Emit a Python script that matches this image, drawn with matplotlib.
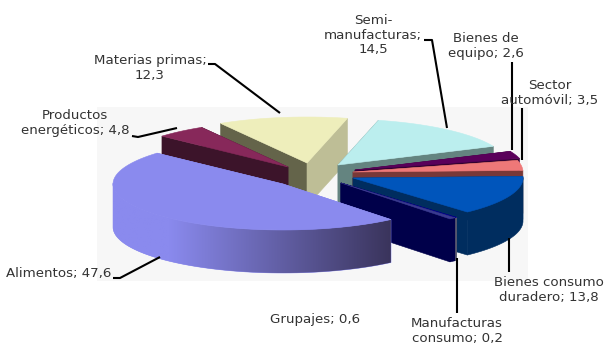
import numpy as np
import matplotlib
matplotlib.use("Agg")
import matplotlib.pyplot as plt
from matplotlib.patches import Polygon, Rectangle

# data, clockwise from the start angle
categories = ["Bienes consumo\nduradero", "Manufacturas\nconsumo", "Grupajes", "Alimentos",
              "Productos\nenergéticos", "Materias primas;\n", "Semi-\nmanufacturas;\n",
              "Bienes de\nequipo", "Sector\nautomóvil"]
values = [13.8, 0.2, 0.6, 47.6, 4.8, 12.3, 14.5, 2.6, 3.5]

# look of each slice: tip of the exploded slice (pixels), size and colours
tips = [(353, 178), (341, 183), (341, 183), (283, 184), (288, 167),
        (307, 163), (338, 165), (355, 170), (353, 172)]
scale = [1, 1.01, 1.01, 1, 1, 1, 1, 1, 1]
top_colors = ["#0055bb", "#0000a0", "#3a3a90", "#8a8aee", "#87285a",
              "#eeeebb", "#bbeeee", "#5a005a", "#ee7878"]
start_wall = ["#002d5f", "#00004a", "#00004a", "#8a8aee", "#3c142a",
              "#64644a", "#648480", "#320032", "#783838"]
end_wall = ["#002d5f", "#00004a", "#00004a", "#8a8aee", "#3c142a",
            "#bebe96", "#648480", "#320032", "#783838"]
wall_colors = ["#002d5f", "#6e6e78", "#00004a", "#8a8aee", "#3c142a",
               "#bebe96", "#648480", "#320032", "#783838"]
draw_order = [5, 6, 7, 8, 0, 1, 2, 4, 3]

START_ANGLE = 2.0
RX = 170.0
RY = 46.0
DEPTH = 43.0

# labels: anchor in pixels, leader line in pixels
label_pos = [(549, 290), (457, 331), (315, 319), (59, 273), (75, 123),
             (150, 68), (373, 35), (486, 46), (550, 93)]
leader_x = [[509, 509], [457, 457], None, [113, 120, 160], [132, 138, 177],
            [208, 215, 280], [424, 432, 447], [512, 512], [522, 522]]
leader_y = [[238, 272], [258, 313], None, [278, 278, 257], [136, 137, 128],
            [64, 64, 113], [40, 40, 128], [62, 150], [108, 160]]


def pt(tip, ang, k=1):
    a = np.radians(ang)
    return (tip[0] + k * RX * np.cos(a), tip[1] - k * RY * np.sin(a))


def face(points, color, z):
    # same colour edge so that neighbouring faces leave no seam
    poly = Polygon(points, fc=color, ec=color, lw=0.4, zorder=z)
    ax.add_patch(poly)
    return poly


fig = plt.figure(figsize=(6.05, 3.45), dpi=100)
ax = fig.add_axes([0, 0, 1, 1])
ax.axis("off")
ax.add_patch(Rectangle((97, 107), 431, 174, fc="#f7f7f7", ec="none", zorder=0))

# slice angles from the values
total = sum(values)
spans = [v / total * 360 for v in values]
ends = START_ANGLE - np.cumsum(spans)
starts = ends + np.array(spans)

z = 1
for i in draw_order:
    tip = tips[i]
    a0, a1 = starts[i], ends[i]
    arc = np.linspace(a0, a1, 80)
    ax_pts = [pt(tip, a, scale[i]) for a in arc]

    # flat cut faces
    p0 = ax_pts[0]
    p1 = ax_pts[-1]
    face([tip, p0, (p0[0], p0[1] + DEPTH), (tip[0], tip[1] + DEPTH)], start_wall[i], z)
    face([tip, p1, (p1[0], p1[1] + DEPTH), (tip[0], tip[1] + DEPTH)], end_wall[i], z)

    # outer curved wall, only the part facing us
    front = [p for a, p in zip(arc, ax_pts) if np.sin(np.radians(a)) < 0.02]
    if len(front) > 1:
        wall = front + [(x, y + DEPTH) for x, y in front[::-1]]
        poly = face(wall, wall_colors[i], z)
        if i == 3:
            # shaded from light on the left to dark on the right
            grad = np.ones((2, 256, 3))
            light = np.array([138, 138, 238]) / 255
            dark = np.array([58, 52, 92]) / 255
            t = np.clip((np.linspace(0, 1, 256) - 0.2) / 0.8, 0, 1)[:, None]
            grad[:] = light * (1 - t) + dark * t
            xs = [p[0] for p in wall]
            ys = [p[1] for p in wall]
            im = ax.imshow(grad, extent=[min(xs), max(xs), max(ys), min(ys)],
                           aspect="auto", zorder=z, interpolation="bilinear")
            im.set_clip_path(poly)

    face([tip] + ax_pts, top_colors[i], z)
    z += 1

ax.set_xlim(0, 605)
ax.set_ylim(345, 0)

# labels and leader lines
for i in range(len(categories)):
    val = ("%.1f" % values[i]).replace(".", ",")
    sep = "" if categories[i].endswith("\n") else "; "
    ax.text(label_pos[i][0], label_pos[i][1], categories[i] + sep + val, ha="center", va="center",
            fontsize=9.6, color="#333333", linespacing=1.12, zorder=50)
    if leader_x[i] is not None:
        ax.plot(leader_x[i], leader_y[i], color="black", lw=1.5, zorder=40, solid_capstyle="butt")

fig.savefig("out.png", dpi=100)
